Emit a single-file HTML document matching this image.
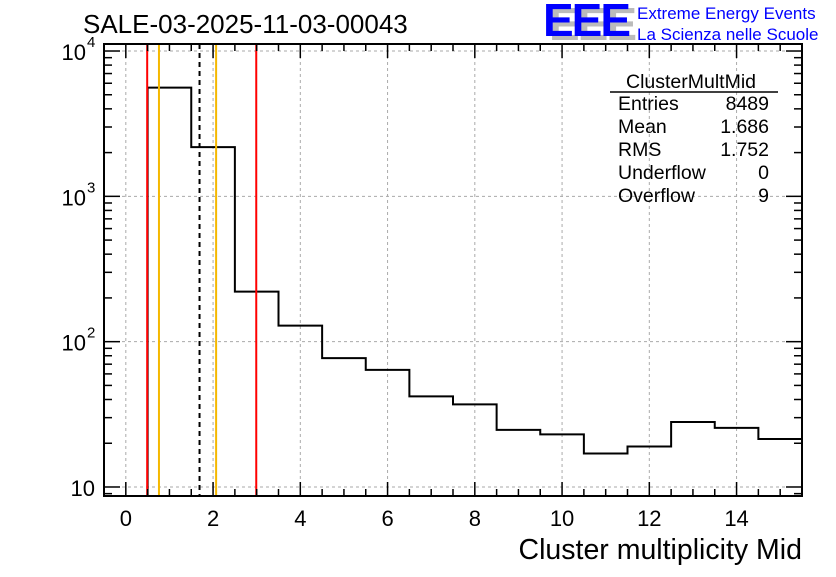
<!DOCTYPE html>
<html><head><meta charset="utf-8"><style>
body{margin:0;background:#fff;}
svg text{font-family:"Liberation Sans",sans-serif;}
</style></head><body>
<svg id="c" width="836" height="572" xmlns="http://www.w3.org/2000/svg">
<rect width="836" height="572" fill="#fff"/>
<g id="grid"></g>
<g id="marks"></g>
<g id="axes"></g>
<text x="83" y="33" font-size="26">SALE-03-2025-11-03-00043</text>
<g>
<text x="549" y="40" font-size="46" font-weight="bold" fill="#bbb" letter-spacing="-2">EEE</text>
<text x="543" y="36" font-size="46" font-weight="bold" fill="#0000ff" letter-spacing="-2">EEE</text>
<text x="637" y="19" font-size="17" fill="#0000ff">Extreme Energy Events</text>
<text x="637" y="40" font-size="17" fill="#0000ff">La Scienza nelle Scuole</text>
</g>
<g font-size="19.5">
<text x="691" y="88" text-anchor="middle">ClusterMultMid</text>
<line x1="610" y1="92" x2="778" y2="92" stroke="#000" stroke-width="1.5"/>
<text x="618" y="110">Entries</text><text x="769" y="110" text-anchor="end">8489</text>
<text x="618" y="133">Mean</text><text x="769" y="133" text-anchor="end">1.686</text>
<text x="618" y="156">RMS</text><text x="769" y="156" text-anchor="end">1.752</text>
<text x="618" y="179">Underflow</text><text x="769" y="179" text-anchor="end">0</text>
<text x="618" y="202">Overflow</text><text x="769" y="202" text-anchor="end">9</text>
</g>
<text x="802" y="559" font-size="28.5" text-anchor="end">Cluster multiplicity Mid</text>
</svg>
<script>
const binEdgesLow = [0.5,1.5,2.5,3.5,4.5,5.5,6.5,7.5,8.5,9.5,10.5,11.5,12.5,13.5,14.5];
const binCounts = [5600,2180,221,129,77,64,42,37,24.7,23,17,19,28,25.5,21.4];
const binWidth = 1;
const xTicks = [0,2,4,6,8,10,12,14];
const yDecades = [1,2,3,4];
const redLines = [0.49,2.99];
const orangeLines = [0.76,2.07];
const dashedLines = [1.69];

const L=104,R=802,T=44,B=496;
const xMin=-0.5,xMax=15.5;
const yMin=Math.log10(8.67), yMax=4+7/145;
const X=v=>L+(v-xMin)/(xMax-xMin)*(R-L);
const Y=v=>B-(Math.log10(v)-yMin)/(yMax-yMin)*(B-T);
const NS="http://www.w3.org/2000/svg";
function mk(p,tag,a){const e=document.createElementNS(NS,tag);for(const k in a)e.setAttribute(k,a[k]);p.appendChild(e);return e;}
const grid=document.getElementById('grid'),marks=document.getElementById('marks'),axes=document.getElementById('axes');

xTicks.forEach(t=>{const g=mk(grid,'line',{x1:X(t),x2:X(t),y1:T,y2:B,stroke:'#aaa','stroke-dasharray':'3,3'});
});
yDecades.forEach(d=>{const v=Math.pow(10,d);const g=mk(grid,'line',{x1:L,x2:R,y1:Y(v),y2:Y(v),stroke:'#aaa','stroke-dasharray':'3,3'});
});

let d='M'+X(binEdgesLow[0])+','+B;
binEdgesLow.forEach((x0,i)=>{const y=Y(binCounts[i]);d+=' L'+X(x0)+','+y+' L'+Math.min(X(x0+binWidth),R)+','+y;});
const h=mk(marks,'path',{d:d,fill:'none',stroke:'#000','stroke-width':2});


redLines.forEach(v=>{const l=mk(marks,'line',{x1:X(v),x2:X(v),y1:T,y2:B,stroke:'#f00','stroke-width':2});
});
orangeLines.forEach(v=>{const l=mk(marks,'line',{x1:X(v),x2:X(v),y1:T,y2:B,stroke:'#f5b800','stroke-width':2});
});
dashedLines.forEach(v=>{const l=mk(marks,'line',{x1:X(v),x2:X(v),y1:T,y2:B,stroke:'#000','stroke-width':2,'stroke-dasharray':'5,4'});
});

const fr=mk(axes,'rect',{x:L,y:T,width:R-L,height:B-T,fill:'none',stroke:'#000','stroke-width':2});


for(let v=-0.5;v<=xMax+1e-6;v+=0.5){
  const maj=Math.abs(v%2)<1e-6;const len=maj?14:7;
  mk(axes,'line',{x1:X(v),x2:X(v),y1:B,y2:B-len,stroke:'#000','stroke-width':1.5});
  mk(axes,'line',{x1:X(v),x2:X(v),y1:T,y2:T+len,stroke:'#000','stroke-width':1.5});
}
xTicks.forEach(t=>{const tx=mk(axes,'text',{x:X(t),y:526,'font-size':22,'text-anchor':'middle'});tx.textContent=t;
});

for(let dcd=0;dcd<=4;dcd++){for(let m=1;m<=9;m++){const v=m*Math.pow(10,dcd);
  if(Math.log10(v)<yMin||Math.log10(v)>yMax)continue;const len=m===1?16:8;
  mk(axes,'line',{x1:L,x2:L+len,y1:Y(v),y2:Y(v),stroke:'#000','stroke-width':1.5});
  mk(axes,'line',{x1:R,x2:R-len,y1:Y(v),y2:Y(v),stroke:'#000','stroke-width':1.5});}}
yDecades.forEach(dd=>{const y=Y(Math.pow(10,dd));
  const tx=mk(axes,'text',{x:dd===1?95:86,y:y+9,'font-size':22,'text-anchor':'end'});tx.textContent='10';
  
  if(dd>1){const s=mk(axes,'text',{x:87,y:y-4,'font-size':15});s.textContent=dd;
  }
});
</script>
</body></html>
